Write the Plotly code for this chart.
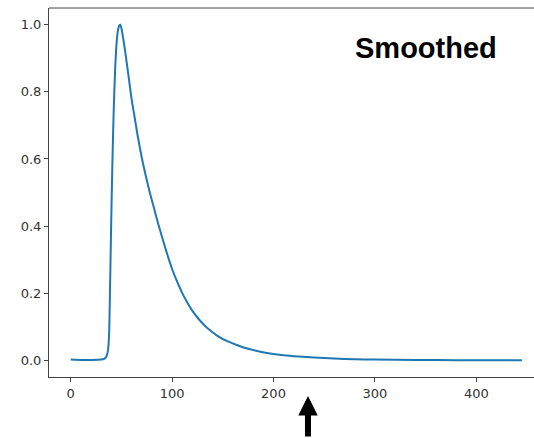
import plotly.graph_objects as go

# Data
x_vals = [0, 10, 20, 30, 33, 35, 36, 37, 38, 39, 40, 41, 42, 43, 44, 45, 46, 47, 48, 49, 50,
          52, 54, 56, 58, 60, 63, 66, 70, 74, 78, 82, 86, 90, 95, 100, 105, 110, 115, 120,
          127, 135, 145, 155, 165, 175, 185, 195, 210, 225, 240, 260, 280, 300, 340, 380, 410, 445]
y_vals = [0.002, 0.001, 0.001, 0.002, 0.004, 0.01, 0.018, 0.035, 0.09, 0.25, 0.42, 0.57, 0.7, 0.8,
          0.88, 0.935, 0.97, 0.99, 0.998, 1.0, 0.99,
          0.955, 0.915, 0.87, 0.825, 0.78, 0.725, 0.67, 0.605, 0.55, 0.5, 0.455, 0.41, 0.368, 0.318,
          0.272, 0.234, 0.2, 0.172, 0.147, 0.12, 0.095, 0.072, 0.056, 0.044, 0.034, 0.027, 0.021,
          0.015, 0.011, 0.008, 0.005, 0.003, 0.002, 0.001, 0.0, 0.0, 0.0]

x_ticks = [0, 100, 200, 300, 400]
y_ticks = [0.0, 0.2, 0.4, 0.6, 0.8, 1.0]
y_ticklabels = ["0.0", "0.2", "0.4", "0.6", "0.8", "1.0"]

title_text = "Smoothed"
arrow_x = 234

fig = go.Figure()
fig.add_trace(go.Scatter(x=x_vals, y=y_vals, mode="lines",
                         line=dict(color="#1f77b4", width=2, shape="spline", smoothing=0.5),
                         showlegend=False))

axis_color = "#444444"
fig.update_layout(
    width=534, height=438,
    margin=dict(l=49, r=0, t=8, b=61),
    plot_bgcolor="white", paper_bgcolor="white",
    font=dict(family="DejaVu Sans", size=13, color="#333333"),
    xaxis=dict(range=[-21.4, 456.9], tickvals=x_ticks, showgrid=False, zeroline=False,
               showline=True, linecolor=axis_color, linewidth=1, ticks="outside",
               ticklen=4, tickcolor=axis_color, tickfont=dict(size=13, color="#333333")),
    yaxis=dict(range=[-0.05, 1.05], tickvals=y_ticks, ticktext=y_ticklabels, showgrid=False,
               zeroline=False, showline=True, linecolor=axis_color, linewidth=1,
               ticks="outside", ticklen=4, tickcolor=axis_color,
               tickfont=dict(size=13, color="#333333")),
)

# top spine
fig.add_shape(type="line", xref="paper", yref="paper", x0=0, x1=1, y0=1, y1=1,
              line=dict(color=axis_color, width=1))

fig.add_annotation(text="<b>" + title_text + "</b>", x=350, y=0.93, xref="x", yref="y",
                   showarrow=False, font=dict(family="Liberation Sans", size=29, color="black"))

fig.add_annotation(text="", x=arrow_x, y=-0.0515, xref="x", yref="paper",
                   showarrow=True, ax=0, ay=42, axref="pixel", ayref="pixel",
                   arrowhead=2, arrowsize=0.65, arrowwidth=6, arrowcolor="black")

fig.write_html("out.html")
